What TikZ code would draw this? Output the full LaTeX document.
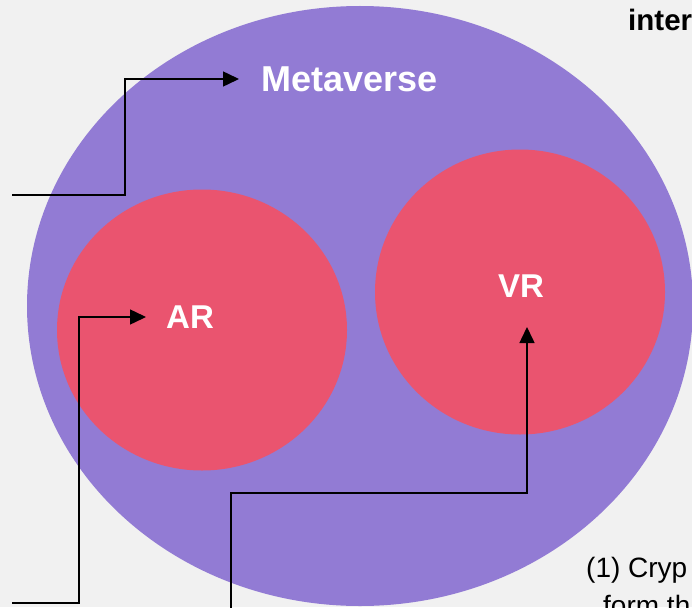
\documentclass[tikz,border=0pt]{standalone}
\usepackage{fontspec}
\setmainfont{Liberation Sans}
\usetikzlibrary{shapes.geometric,arrows.meta}
\definecolor{pagebg}{HTML}{F1F1F1}
\definecolor{metapurple}{HTML}{927BD4}
\definecolor{realred}{HTML}{EA546F}
\tikzset{
  blob/.style={ellipse, inner sep=0pt, outer sep=0pt},
  label/.style={text=white, font=\bfseries, inner sep=0pt},
  arr/.style={draw=black, line width=1.5pt, -{Triangle[length=16pt,width=15pt]}},
}
\begin{document}
\begin{tikzpicture}[x=1pt,y=-1pt]
  % page frame
  \fill[pagebg] (0,0) rectangle (692,607);
  \useasboundingbox (0,0) rectangle (692,607);

  % the three regions
  \node[blob, fill=metapurple, minimum width=666pt, minimum height=600pt] (meta) at (360,306) {};
  \node[blob, fill=realred, minimum width=290pt, minimum height=281pt] (arblob) at (202,330) {};
  \node[blob, fill=realred, minimum width=290pt, minimum height=285pt] (vrblob) at (520,292) {};

  % region titles
  \node[label, font=\bfseries\fontsize{36}{40}\selectfont, anchor=west] (mv) at (261,79) {Metaverse};
  \node[label, font=\bfseries\fontsize{33}{38}\selectfont, anchor=west] (ar) at (166,317) {AR};
  \node[label, font=\bfseries\fontsize{33}{38}\selectfont, anchor=base] (vr) at (521,297) {VR};

  % text running off the page edge
  \node[anchor=base west, inner sep=0pt, font=\bfseries\fontsize{29.5}{34}\selectfont] (inter) at (628,31) {inter};
  \node[anchor=base west, inner sep=0pt, font=\fontsize{28}{32}\selectfont] (note1) at (586,577) {(1) Cryp};
  \node[anchor=base west, inner sep=0pt, font=\fontsize{28}{32}\selectfont] (note2) at (603,615) {form th};

  % loose ends of the leader lines
  \coordinate (mvfrom) at (12,195);
  \coordinate (arfrom) at (12,603);
  \coordinate (vrfrom) at (231,612);

  % leader arrows
  \draw[arr] (mvfrom) -- ++(113,0) |- ([xshift=-22pt]mv.west);
  \draw[arr] (arfrom) -- ++(67,0) |- ([xshift=-20pt]ar.west);
  \draw[arr] (vrfrom) -- ++(0,-119) -| ([xshift=6pt,yshift=-30pt]vr.base);
\end{tikzpicture}
\end{document}
